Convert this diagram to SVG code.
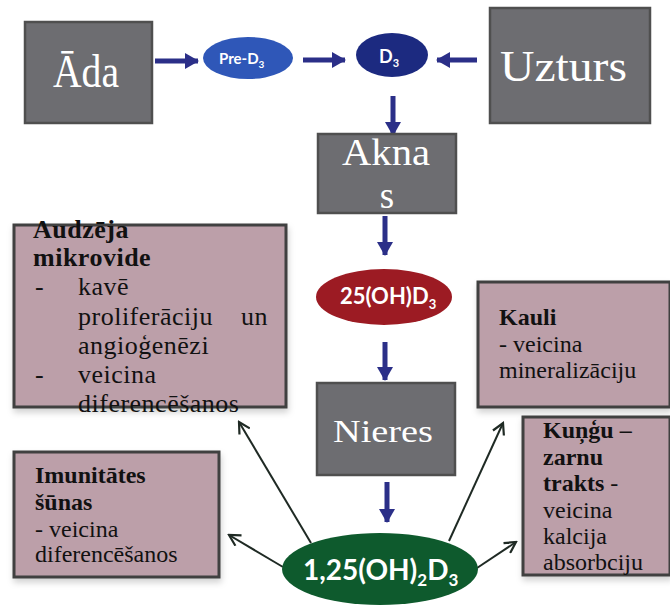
<svg xmlns="http://www.w3.org/2000/svg" width="670" height="606" viewBox="0 0 670 606">
<defs>
<style>
.gbox{fill:#6d6d71;stroke:#4f4f4f;stroke-width:2.5}
.pbox{fill:#bc9fa9;stroke:#3f3f3f;stroke-width:3}
.gt{font-family:"Liberation Serif",serif;fill:#fff}
.pt{font-family:"Liberation Serif",serif;fill:#111;font-size:24px}
.pa{font-family:"Liberation Serif",serif;fill:#111;font-size:26px;letter-spacing:0.5px}
.b{font-weight:bold}
.et{font-family:Lato,"Open Sans",sans-serif;font-weight:bold;fill:#fff}
.ba{stroke:#2b2f88;stroke-width:5;fill:none}
.ka{stroke:#1f2a24;stroke-width:2;fill:none}
</style>
<marker id="bh" markerUnits="userSpaceOnUse" markerWidth="14" markerHeight="16" refX="13" refY="8" orient="auto">
<path d="M0,0 L14,8 L0,16 Z" fill="#2b2f88"/>
</marker>
<marker id="kh" markerUnits="userSpaceOnUse" markerWidth="14" markerHeight="14" refX="12" refY="7" orient="auto">
<path d="M1,1 L12,7 L1,13" fill="none" stroke="#1f2a24" stroke-width="2.2"/>
</marker>
<filter id="sh" x="-10%" y="-10%" width="120%" height="130%">
<feDropShadow dx="1" dy="4" stdDeviation="3" flood-color="#000" flood-opacity="0.18"/>
</filter>
</defs>
<rect width="670" height="606" fill="#fff"/>

<g id="connectors">
<line class="ba" x1="155" y1="61" x2="198" y2="61" marker-end="url(#bh)"/>
<line class="ba" x1="303" y1="60" x2="345" y2="60" marker-end="url(#bh)"/>
<line class="ba" x1="477" y1="60" x2="437" y2="60" marker-end="url(#bh)"/>
<line class="ba" x1="393" y1="96" x2="393" y2="135" marker-end="url(#bh)"/>
<line class="ba" x1="385" y1="216" x2="385" y2="255" marker-end="url(#bh)"/>
<line class="ba" x1="385" y1="342" x2="385" y2="380" marker-end="url(#bh)"/>
<line class="ba" x1="387" y1="482" x2="387" y2="522" marker-end="url(#bh)"/>
<line class="ka" x1="311" y1="543" x2="239" y2="422" marker-end="url(#kh)"/>
<line class="ka" x1="283" y1="567" x2="229" y2="535" marker-end="url(#kh)"/>
<line class="ka" x1="449" y1="541" x2="503" y2="423" marker-end="url(#kh)"/>
<line class="ka" x1="477" y1="568" x2="516" y2="542" marker-end="url(#kh)"/>
</g>

<g id="ada">
<rect class="gbox" x="25" y="22" width="127" height="101"/>
<text class="gt" x="53" y="87" font-size="46" textLength="66" lengthAdjust="spacingAndGlyphs">Āda</text>
</g>

<g id="pre-d3">
<ellipse cx="248" cy="58" rx="45" ry="21" fill="#2f57b8"/>
<text class="et" x="219" y="64" font-size="15">Pre-D<tspan font-size="10" dy="4">3</tspan></text>
</g>

<g id="d3">
<ellipse cx="392" cy="55" rx="36" ry="22" fill="#1c2a80"/>
<text class="et" x="379" y="63" font-size="18">D<tspan font-size="11" dy="4">3</tspan></text>
</g>

<g id="uzturs">
<rect class="gbox" x="490" y="8" width="160" height="115"/>
<text class="gt" x="500" y="81" font-size="44" textLength="127" lengthAdjust="spacingAndGlyphs">Uzturs</text>
</g>

<g id="aknas">
<rect class="gbox" x="318" y="134" width="138" height="79"/>
<text class="gt" x="342" y="165" font-size="37" textLength="88" lengthAdjust="spacingAndGlyphs">Akna</text>
<text class="gt" x="387" y="208" font-size="37" text-anchor="middle">s</text>
</g>

<g id="oh-d3">
<ellipse cx="384" cy="297" rx="68" ry="28" fill="#9c1b23"/>
<text class="et" x="340" y="304" font-size="22">25(OH)D<tspan font-size="13" dy="5">3</tspan></text>
</g>

<g id="nieres">
<rect class="gbox" x="317" y="383" width="138" height="92"/>
<text class="gt" x="333" y="442" font-size="32" textLength="100" lengthAdjust="spacingAndGlyphs">Nieres</text>
</g>

<g id="oh2-d3">
<ellipse cx="380" cy="569" rx="98" ry="36" fill="#0e5a2d"/>
<text class="et" x="303" y="580" font-size="28">1,25(OH)<tspan font-size="17" dy="6">2</tspan><tspan dy="-6">D</tspan><tspan font-size="17" dy="6">3</tspan></text>
</g>

<g id="audzeja">
<rect class="pbox" x="14" y="225" width="272" height="182" filter="url(#sh)"/>
<text class="pa b" x="33" y="238">Audzēja</text>
<text class="pa b" x="33" y="266">mikrovide</text>
<text class="pa" x="35" y="295">-</text>
<text class="pa" x="78" y="295">kavē</text>
<text class="pa" x="78" y="325">proliferāciju</text>
<text class="pa" x="268" y="325" text-anchor="end">un</text>
<text class="pa" x="78" y="354">angioģenēzi</text>
<text class="pa" x="35" y="383">-</text>
<text class="pa" x="78" y="383">veicina</text>
<text class="pa" x="78" y="412">diferencēšanos</text>
</g>

<g id="kauli">
<rect class="pbox" x="478" y="282" width="192" height="125" filter="url(#sh)"/>
<text class="pt b" x="499" y="325">Kauli</text>
<text class="pt" x="499" y="352">- veicina</text>
<text class="pt" x="499" y="378">mineralizāciju</text>
</g>

<g id="imunitates">
<rect class="pbox" x="14" y="452" width="205" height="125" filter="url(#sh)"/>
<text class="pt b" x="35" y="483">Imunitātes</text>
<text class="pt b" x="35" y="510">šūnas</text>
<text class="pt" x="35" y="537">- veicina</text>
<text class="pt" x="35" y="562">diferencēšanos</text>
</g>

<g id="kungu">
<rect class="pbox" x="523" y="417" width="147" height="158" filter="url(#sh)"/>
<text class="pt b" x="543" y="438">Kuņģu –</text>
<text class="pt b" x="543" y="465">zarnu</text>
<text class="pt" x="543" y="491"><tspan class="b">trakts</tspan> -</text>
<text class="pt" x="543" y="518">veicina</text>
<text class="pt" x="543" y="544">kalcija</text>
<text class="pt" x="543" y="570">absorbciju</text>
</g>
</svg>
